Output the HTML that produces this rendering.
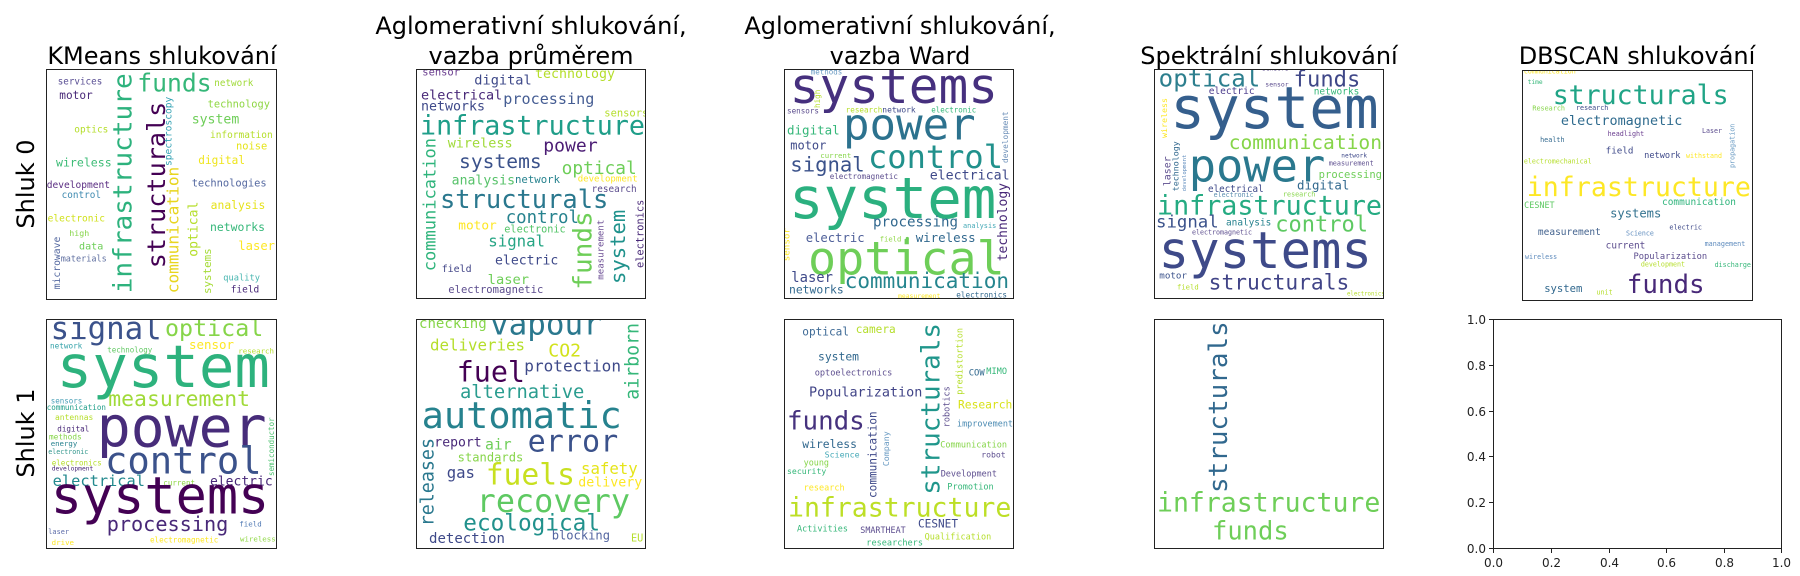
<!DOCTYPE html>
<html><head><meta charset="utf-8"><style>
html,body{margin:0;padding:0;background:#fff;width:1800px;height:576px;overflow:hidden}
svg{display:block}
.w text{font-family:"DejaVu Sans Mono","Liberation Mono",monospace}
.t{font-family:"DejaVu Sans","Liberation Sans",sans-serif;font-size:24px;fill:#000}
.k{font-family:"DejaVu Sans","Liberation Sans",sans-serif;font-size:12px;fill:#222}
</style></head><body>
<svg width="1800" height="576" viewBox="0 0 1800 576" xmlns="http://www.w3.org/2000/svg">
<rect width="1800" height="576" fill="#fff"/>
<!-- titles -->
<text class="t" x="162" y="64" text-anchor="middle">KMeans shlukování</text>
<text class="t" x="531" y="34" text-anchor="middle">Aglomerativní shlukování,</text>
<text class="t" x="531" y="64" text-anchor="middle">vazba průměrem</text>
<text class="t" x="900" y="34" text-anchor="middle">Aglomerativní shlukování,</text>
<text class="t" x="900" y="64" text-anchor="middle">vazba Ward</text>
<text class="t" x="1269" y="64" text-anchor="middle">Spektrální shlukování</text>
<text class="t" x="1637" y="64" text-anchor="middle">DBSCAN shlukování</text>
<text class="t" transform="translate(34,184) rotate(-90)" text-anchor="middle">Shluk 0</text>
<text class="t" transform="translate(34,433) rotate(-90)" text-anchor="middle">Shluk 1</text>

<!-- A0 KMeans row0 -->
<svg x="46" y="69" width="232" height="231" overflow="hidden"><g class="w" transform="translate(-16,-9)" lengthAdjust="spacingAndGlyphs">
<text x="27.7" y="24.3" font-size="9.3" fill="#5a4f94" textLength="44.6" lengthAdjust="spacingAndGlyphs">services</text>
<text x="29.3" y="39" font-size="11.1" fill="#482878" textLength="33.4" lengthAdjust="spacingAndGlyphs">motor</text>
<text x="107.3" y="31.7" font-size="24.7" fill="#35b779" textLength="74.4" lengthAdjust="spacingAndGlyphs">funds</text>
<text x="184.3" y="26" font-size="9.3" fill="#a0da39" textLength="39" lengthAdjust="spacingAndGlyphs">network</text>
<text transform="translate(101.7,233.3) rotate(-90)" font-size="26.1" fill="#2db27d" textLength="220" lengthAdjust="spacingAndGlyphs">infrastructure</text>
<text transform="translate(135,208.3) rotate(-90)" font-size="25.2" fill="#440154" textLength="166.6" lengthAdjust="spacingAndGlyphs">structurals</text>
<text transform="translate(141.7,106) rotate(-90)" font-size="9.6" fill="#31a1b3" textLength="69.3" lengthAdjust="spacingAndGlyphs">spectroscopy</text>
<text transform="translate(148.3,233.3) rotate(-90)" font-size="16.2" fill="#e8d51e" textLength="126.6" lengthAdjust="spacingAndGlyphs">communication</text>
<text x="161.7" y="63.3" font-size="13.2" fill="#6ece58" textLength="47.6" lengthAdjust="spacingAndGlyphs">system</text>
<text x="177.7" y="47.7" font-size="10.3" fill="#8fd744" textLength="62.3" lengthAdjust="spacingAndGlyphs">technology</text>
<text x="44.3" y="72.7" font-size="9.4" fill="#b5de2b" textLength="34" lengthAdjust="spacingAndGlyphs">optics</text>
<text x="180" y="78" font-size="9.5" fill="#b5de2b" textLength="62.7" lengthAdjust="spacingAndGlyphs">information</text>
<text x="206" y="89.3" font-size="10.4" fill="#e5e419" textLength="31.3" lengthAdjust="spacingAndGlyphs">noise</text>
<text x="26" y="106.7" font-size="11.6" fill="#3bbb75" textLength="55.7" lengthAdjust="spacingAndGlyphs">wireless</text>
<text x="168.3" y="104" font-size="11.1" fill="#efe51c" textLength="46.7" lengthAdjust="spacingAndGlyphs">digital</text>
<text x="16.7" y="128" font-size="9.6" fill="#5a2d82" textLength="63.3" lengthAdjust="spacingAndGlyphs">development</text>
<text x="31.7" y="138" font-size="9.3" fill="#3e8ab0" textLength="39.3" lengthAdjust="spacingAndGlyphs">control</text>
<text x="161.7" y="126.7" font-size="10.4" fill="#5468a0" textLength="75" lengthAdjust="spacingAndGlyphs">technologies</text>
<text transform="translate(167.7,196.7) rotate(-90)" font-size="13.1" fill="#b5de2b" textLength="55" lengthAdjust="spacingAndGlyphs">optical</text>
<text x="180.7" y="149" font-size="11.3" fill="#e6e21a" textLength="54.6" lengthAdjust="spacingAndGlyphs">analysis</text>
<text x="17.7" y="161.7" font-size="9.5" fill="#d0e11c" textLength="57.3" lengthAdjust="spacingAndGlyphs">electronic</text>
<text x="180" y="171" font-size="11.4" fill="#35b779" textLength="55" lengthAdjust="spacingAndGlyphs">networks</text>
<text x="39.3" y="176" font-size="8.3" fill="#86d549" textLength="20" lengthAdjust="spacingAndGlyphs">high</text>
<text x="49" y="189.3" font-size="10.1" fill="#6ece58" textLength="24.3" lengthAdjust="spacingAndGlyphs">data</text>
<text x="208.3" y="190" font-size="12.2" fill="#fde725" textLength="36.7" lengthAdjust="spacingAndGlyphs">laser</text>
<text transform="translate(30,229.3) rotate(-90)" font-size="9.7" fill="#5468a0" textLength="52.6" lengthAdjust="spacingAndGlyphs">microwave</text>
<text x="30.7" y="201.7" font-size="8.5" fill="#5f6fa0" textLength="46" lengthAdjust="spacingAndGlyphs">materials</text>
<text transform="translate(181,234) rotate(-90)" font-size="10.8" fill="#a5db36" textLength="45.7" lengthAdjust="spacingAndGlyphs">systems</text>
<text x="193.3" y="220.7" font-size="8.7" fill="#48b6b0" textLength="36.7" lengthAdjust="spacingAndGlyphs">quality</text>
<text x="200.7" y="232.7" font-size="9.5" fill="#482878" textLength="28.6" lengthAdjust="spacingAndGlyphs">field</text>
</g></svg>
<rect x="46.5" y="69.5" width="230" height="230" fill="none" stroke="#222" stroke-width="1"/>

<!-- A1 KMeans row1 -->
<svg x="46" y="319" width="232" height="230" overflow="hidden"><g class="w" transform="translate(-16,-19)">
<text x="20.7" y="39" font-size="30.7" fill="#3b528b" textLength="111" lengthAdjust="spacingAndGlyphs">signal</text>
<text x="135" y="36" font-size="23.3" fill="#86d549" textLength="98.3" lengthAdjust="spacingAndGlyphs">optical</text>
<text x="20" y="48.3" font-size="7.7" fill="#31a1a8" textLength="32.3" lengthAdjust="spacingAndGlyphs">network</text>
<text x="77.3" y="52.7" font-size="7.5" fill="#63c965" textLength="45" lengthAdjust="spacingAndGlyphs">technology</text>
<text x="159" y="49" font-size="12.5" fill="#fde725" textLength="45" lengthAdjust="spacingAndGlyphs">sensor</text>
<text x="208.3" y="53.3" font-size="7.4" fill="#b5de2b" textLength="35.7" lengthAdjust="spacingAndGlyphs">research</text>
<text x="26.7" y="87" font-size="59" fill="#2db27d" textLength="213.3" lengthAdjust="spacingAndGlyphs">system</text>
<text x="78.3" y="106" font-size="21.4" fill="#a0da39" textLength="141.7" lengthAdjust="spacingAndGlyphs">measurement</text>
<text x="20.7" y="103.3" font-size="7.5" fill="#4aa0b7" textLength="31.6" lengthAdjust="spacingAndGlyphs">sensors</text>
<text x="16.7" y="110" font-size="7.6" fill="#1f9e89" textLength="59.3" lengthAdjust="spacingAndGlyphs">communication</text>
<text x="25" y="120" font-size="8" fill="#b5de2b" textLength="38.3" lengthAdjust="spacingAndGlyphs">antennas</text>
<text x="66.7" y="146.7" font-size="56.5" fill="#472c7a" textLength="170" lengthAdjust="spacingAndGlyphs">power</text>
<text x="27.3" y="131.7" font-size="7.6" fill="#482878" textLength="32" lengthAdjust="spacingAndGlyphs">digital</text>
<text x="19" y="139.3" font-size="7.8" fill="#86d549" textLength="32.7" lengthAdjust="spacingAndGlyphs">methods</text>
<text x="20.7" y="146" font-size="7.4" fill="#26828e" textLength="26.6" lengthAdjust="spacingAndGlyphs">energy</text>
<text x="18.3" y="154" font-size="6.6" fill="#31968c" textLength="40" lengthAdjust="spacingAndGlyphs">electronic</text>
<text x="75" y="173.3" font-size="37.2" fill="#3b528b" textLength="156.7" lengthAdjust="spacingAndGlyphs">control</text>
<text transform="translate(244,176) rotate(-90)" font-size="7.5" fill="#4ac16d" textLength="58.7" lengthAdjust="spacingAndGlyphs">semiconductor</text>
<text x="21.7" y="165.7" font-size="7.6" fill="#b5de2b" textLength="50" lengthAdjust="spacingAndGlyphs">electronics</text>
<text x="21.7" y="170.7" font-size="6.3" fill="#482878" textLength="41.6" lengthAdjust="spacingAndGlyphs">development</text>
<text x="22.7" y="186" font-size="15.3" fill="#23898e" textLength="92.3" lengthAdjust="spacingAndGlyphs">electrical</text>
<text x="180" y="185.7" font-size="13" fill="#482878" textLength="62.7" lengthAdjust="spacingAndGlyphs">electric</text>
<text x="133.3" y="185.7" font-size="7.5" fill="#8fd744" textLength="31.7" lengthAdjust="spacingAndGlyphs">current</text>
<text x="20.7" y="213.3" font-size="51.9" fill="#440154" textLength="218.6" lengthAdjust="spacingAndGlyphs">systems</text>
<text x="76.7" y="231" font-size="20.2" fill="#482878" textLength="121.6" lengthAdjust="spacingAndGlyphs">processing</text>
<text x="209.3" y="226.7" font-size="7.4" fill="#4f78b3" textLength="22.4" lengthAdjust="spacingAndGlyphs">field</text>
<text x="18.3" y="234" font-size="6.9" fill="#5c6ba8" textLength="20.7" lengthAdjust="spacingAndGlyphs">laser</text>
<text x="21.7" y="245" font-size="7.4" fill="#fde725" textLength="22.3" lengthAdjust="spacingAndGlyphs">drive</text>
<text x="120" y="242.7" font-size="7.6" fill="#fde725" textLength="68.3" lengthAdjust="spacingAndGlyphs">electromagnetic</text>
<text x="210" y="241.7" font-size="7.4" fill="#8fd744" textLength="35.7" lengthAdjust="spacingAndGlyphs">wireless</text>
</g></svg>
<rect x="46.5" y="319.5" width="230" height="229" fill="none" stroke="#222" stroke-width="1"/>

<!-- B0 -->
<svg x="416" y="69" width="230" height="230" overflow="hidden"><g class="w" transform="translate(-1,-1)">
<text x="7.3" y="7.3" font-size="10.4" fill="#6a3d8f" textLength="37.7" lengthAdjust="spacingAndGlyphs">sensor</text>
<text x="59.3" y="16.7" font-size="13.6" fill="#3e4989" textLength="57.4" lengthAdjust="spacingAndGlyphs">digital</text>
<text x="120" y="10" font-size="13.3" fill="#b5de2b" textLength="80" lengthAdjust="spacingAndGlyphs">technology</text>
<text x="6" y="31.7" font-size="13.5" fill="#482878" textLength="81.3" lengthAdjust="spacingAndGlyphs">electrical</text>
<text x="6" y="42.3" font-size="13.3" fill="#3e4989" textLength="64" lengthAdjust="spacingAndGlyphs">networks</text>
<text x="88.3" y="36" font-size="15.1" fill="#455d93" textLength="91" lengthAdjust="spacingAndGlyphs">processing</text>
<text x="189.3" y="48.3" font-size="10.4" fill="#b5de2b" textLength="44" lengthAdjust="spacingAndGlyphs">sensors</text>
<text x="5" y="66.7" font-size="26.7" fill="#1f9e89" textLength="225" lengthAdjust="spacingAndGlyphs">infrastructure</text>
<text x="32.7" y="79.3" font-size="13.5" fill="#a0da39" textLength="65" lengthAdjust="spacingAndGlyphs">wireless</text>
<text x="128.3" y="83.3" font-size="18.1" fill="#4b1c74" textLength="54.4" lengthAdjust="spacingAndGlyphs">power</text>
<text transform="translate(20.7,203.3) rotate(-90)" font-size="17" fill="#2fb47c" textLength="133.3" lengthAdjust="spacingAndGlyphs">communication</text>
<text x="44" y="100" font-size="19.6" fill="#3b528b" textLength="82.7" lengthAdjust="spacingAndGlyphs">systems</text>
<text x="146.7" y="106" font-size="17.8" fill="#6ece58" textLength="75" lengthAdjust="spacingAndGlyphs">optical</text>
<text x="36.7" y="116.7" font-size="13.1" fill="#57c26a" textLength="63.3" lengthAdjust="spacingAndGlyphs">analysis</text>
<text x="100" y="115" font-size="10.7" fill="#26828e" textLength="45" lengthAdjust="spacingAndGlyphs">network</text>
<text x="162.7" y="113.3" font-size="9.1" fill="#fde725" textLength="60" lengthAdjust="spacingAndGlyphs">development</text>
<text x="176.7" y="124" font-size="9.3" fill="#5c4d8e" textLength="45" lengthAdjust="spacingAndGlyphs">research</text>
<text x="25" y="140" font-size="25.4" fill="#2a788e" textLength="168.3" lengthAdjust="spacingAndGlyphs">structurals</text>
<text transform="translate(176.7,221.7) rotate(-90)" font-size="26" fill="#6ece58" textLength="78.4" lengthAdjust="spacingAndGlyphs">funds</text>
<text transform="translate(188.3,211.7) rotate(-90)" font-size="9.1" fill="#6a4c93" textLength="60" lengthAdjust="spacingAndGlyphs">measurement</text>
<text transform="translate(210,216) rotate(-90)" font-size="20.6" fill="#20928c" textLength="74.3" lengthAdjust="spacingAndGlyphs">system</text>
<text transform="translate(228.3,200) rotate(-90)" font-size="10.3" fill="#482878" textLength="68.3" lengthAdjust="spacingAndGlyphs">electronics</text>
<text x="90.7" y="155" font-size="17.4" fill="#26828e" textLength="73.3" lengthAdjust="spacingAndGlyphs">control</text>
<text x="43.3" y="161.7" font-size="12.8" fill="#fde725" textLength="38.4" lengthAdjust="spacingAndGlyphs">motor</text>
<text x="89.3" y="164.3" font-size="10.2" fill="#53c568" textLength="61.4" lengthAdjust="spacingAndGlyphs">electronic</text>
<text x="73.3" y="178.3" font-size="15.7" fill="#26a584" textLength="56.7" lengthAdjust="spacingAndGlyphs">signal</text>
<text x="80" y="196.7" font-size="13.1" fill="#3e4989" textLength="63.3" lengthAdjust="spacingAndGlyphs">electric</text>
<text x="26.7" y="204" font-size="10" fill="#414487" textLength="30" lengthAdjust="spacingAndGlyphs">field</text>
<text x="72.7" y="216" font-size="13.7" fill="#6ece58" textLength="41.3" lengthAdjust="spacingAndGlyphs">laser</text>
<text x="33.3" y="225" font-size="10.5" fill="#5c4d8e" textLength="95" lengthAdjust="spacingAndGlyphs">electromagnetic</text>
</g></svg>
<rect x="416.5" y="69.5" width="229" height="229" fill="none" stroke="#222" stroke-width="1"/>

<!-- C0 -->
<svg x="784" y="69" width="230" height="230" overflow="hidden"><g class="w" transform="translate(-1,-1)">
<text x="27.7" y="6.7" font-size="7.5" fill="#6a9bc3" textLength="31.6" lengthAdjust="spacingAndGlyphs">methods</text>
<text x="6.7" y="35" font-size="49.4" fill="#46307e" textLength="208.3" lengthAdjust="spacingAndGlyphs">systems</text>
<text transform="translate(37,40) rotate(-90)" font-size="7.6" fill="#b5de2b" textLength="18.3" lengthAdjust="spacingAndGlyphs">high</text>
<text x="4" y="45.7" font-size="7.6" fill="#5c4d8e" textLength="32" lengthAdjust="spacingAndGlyphs">sensors</text>
<text x="62.7" y="44.3" font-size="7.6" fill="#b5de2b" textLength="36.6" lengthAdjust="spacingAndGlyphs">research</text>
<text x="99.3" y="44.3" font-size="7.9" fill="#3e4989" textLength="33.4" lengthAdjust="spacingAndGlyphs">network</text>
<text x="148.3" y="44.3" font-size="7.5" fill="#35b779" textLength="45" lengthAdjust="spacingAndGlyphs">electronic</text>
<text x="60" y="71.7" font-size="44" fill="#2c728e" textLength="132.7" lengthAdjust="spacingAndGlyphs">power</text>
<text x="4" y="66.7" font-size="12.5" fill="#35b779" textLength="52.7" lengthAdjust="spacingAndGlyphs">digital</text>
<text transform="translate(225,95) rotate(-90)" font-size="7.8" fill="#6c8fb8" textLength="51.7" lengthAdjust="spacingAndGlyphs">development</text>
<text x="7.3" y="81.7" font-size="12" fill="#3e4989" textLength="36" lengthAdjust="spacingAndGlyphs">motor</text>
<text x="37.3" y="90" font-size="7.4" fill="#86d549" textLength="31" lengthAdjust="spacingAndGlyphs">current</text>
<text x="85" y="100" font-size="32" fill="#21918c" textLength="135" lengthAdjust="spacingAndGlyphs">control</text>
<text x="7.3" y="103.3" font-size="20.6" fill="#3b528b" textLength="74.4" lengthAdjust="spacingAndGlyphs">signal</text>
<text x="46.7" y="111" font-size="7.6" fill="#5c4d8e" textLength="68.3" lengthAdjust="spacingAndGlyphs">electromagnetic</text>
<text x="146.7" y="111.7" font-size="13.3" fill="#3e4989" textLength="80" lengthAdjust="spacingAndGlyphs">electrical</text>
<text x="6" y="150" font-size="57.4" fill="#2bb07f" textLength="207.3" lengthAdjust="spacingAndGlyphs">system</text>
<text transform="translate(224,193.3) rotate(-90)" font-size="13" fill="#482878" textLength="78.3" lengthAdjust="spacingAndGlyphs">technology</text>
<text x="90" y="158.3" font-size="14.1" fill="#31688e" textLength="85" lengthAdjust="spacingAndGlyphs">processing</text>
<text x="180" y="160" font-size="6.9" fill="#45a9b7" textLength="33.3" lengthAdjust="spacingAndGlyphs">analysis</text>
<text x="22.7" y="174" font-size="12.3" fill="#4e5f99" textLength="59" lengthAdjust="spacingAndGlyphs">electric</text>
<text x="96.7" y="173.3" font-size="7.2" fill="#8fd744" textLength="21.6" lengthAdjust="spacingAndGlyphs">field</text>
<circle cx="124.3" cy="170.5" r="1.6" fill="#6ece58"/>
<text x="132.7" y="174" font-size="12.5" fill="#31688e" textLength="60" lengthAdjust="spacingAndGlyphs">wireless</text>
<text transform="translate(6.7,193.3) rotate(-90)" font-size="9.2" fill="#fde725" textLength="33.3" lengthAdjust="spacingAndGlyphs">sensor</text>
<text x="25" y="206.7" font-size="46.7" fill="#6ece58" textLength="196.7" lengthAdjust="spacingAndGlyphs">optical</text>
<text x="8.3" y="214" font-size="13.8" fill="#3e4989" textLength="41.7" lengthAdjust="spacingAndGlyphs">laser</text>
<text x="61.7" y="220" font-size="21" fill="#25858e" textLength="164.3" lengthAdjust="spacingAndGlyphs">communication</text>
<text x="6" y="225.7" font-size="11.4" fill="#31688e" textLength="54.7" lengthAdjust="spacingAndGlyphs">networks</text>
<text x="115" y="230" font-size="6.4" fill="#fde725" textLength="42.3" lengthAdjust="spacingAndGlyphs">measurement</text>
<text x="173.3" y="229.3" font-size="7.7" fill="#31688e" textLength="50.7" lengthAdjust="spacingAndGlyphs">electronics</text>
</g></svg>
<rect x="784.5" y="69.5" width="229" height="229" fill="none" stroke="#222" stroke-width="1"/>

<!-- D0 -->
<svg x="1154" y="69" width="230" height="230" overflow="hidden"><g class="w" transform="translate(-2,-1)">
<text x="110" y="2.7" font-size="6.3" fill="#5c4d8e" textLength="26.7" lengthAdjust="spacingAndGlyphs">sensors</text>
<text x="6.7" y="18.3" font-size="24.1" fill="#2d7f8e" textLength="101.6" lengthAdjust="spacingAndGlyphs">optical</text>
<text x="141.7" y="18.3" font-size="22.1" fill="#3f4788" textLength="66.6" lengthAdjust="spacingAndGlyphs">funds</text>
<text x="113.3" y="18.3" font-size="6.5" fill="#5c4d8e" textLength="23.4" lengthAdjust="spacingAndGlyphs">sensor</text>
<text x="56.7" y="26" font-size="9.6" fill="#4b3c8c" textLength="46" lengthAdjust="spacingAndGlyphs">electric</text>
<text x="161.7" y="26.7" font-size="9.5" fill="#35b779" textLength="45.6" lengthAdjust="spacingAndGlyphs">networks</text>
<text transform="translate(15,70) rotate(-90)" font-size="8.3" fill="#fde725" textLength="40" lengthAdjust="spacingAndGlyphs">wireless</text>
<text x="18.3" y="60" font-size="57.7" fill="#355f8d" textLength="208.4" lengthAdjust="spacingAndGlyphs">system</text>
<text x="76.7" y="81" font-size="19.6" fill="#86d549" textLength="153.3" lengthAdjust="spacingAndGlyphs">communication</text>
<text transform="translate(26.5,123.3) rotate(-90)" font-size="8.3" fill="#31688e" textLength="50" lengthAdjust="spacingAndGlyphs">technology</text>
<text transform="translate(18.3,118.3) rotate(-90)" font-size="10" fill="#5c4d8e" textLength="30" lengthAdjust="spacingAndGlyphs">laser</text>
<text transform="translate(34,123.3) rotate(-90)" font-size="5.5" fill="#5e8bbd" textLength="36.6" lengthAdjust="spacingAndGlyphs">development</text>
<text x="36.7" y="113.3" font-size="45.4" fill="#2a788e" textLength="136.6" lengthAdjust="spacingAndGlyphs">power</text>
<text x="189.3" y="89.3" font-size="6.1" fill="#3e4989" textLength="25.7" lengthAdjust="spacingAndGlyphs">network</text>
<text x="176.7" y="97.7" font-size="6.8" fill="#5c4d8e" textLength="45" lengthAdjust="spacingAndGlyphs">measurement</text>
<text x="166.7" y="110" font-size="10.5" fill="#6ece58" textLength="63.3" lengthAdjust="spacingAndGlyphs">processing</text>
<text x="56" y="124" font-size="9.3" fill="#3e4989" textLength="55.7" lengthAdjust="spacingAndGlyphs">electrical</text>
<text x="145" y="121.7" font-size="12.4" fill="#31688e" textLength="52.3" lengthAdjust="spacingAndGlyphs">digital</text>
<text x="61.7" y="129" font-size="6.6" fill="#5c8fb0" textLength="40" lengthAdjust="spacingAndGlyphs">electronic</text>
<text x="131" y="128.3" font-size="6.7" fill="#86d549" textLength="32.3" lengthAdjust="spacingAndGlyphs">research</text>
<text x="5" y="146.7" font-size="26.7" fill="#25ab82" textLength="225" lengthAdjust="spacingAndGlyphs">infrastructure</text>
<text x="4" y="159.3" font-size="17.3" fill="#3b528b" textLength="62.7" lengthAdjust="spacingAndGlyphs">signal</text>
<text x="74" y="157.7" font-size="9.4" fill="#26828e" textLength="45.3" lengthAdjust="spacingAndGlyphs">analysis</text>
<text x="123.3" y="163.3" font-size="22" fill="#5ec962" textLength="92.7" lengthAdjust="spacingAndGlyphs">control</text>
<text x="40" y="166.7" font-size="6.6" fill="#5c4d8e" textLength="60" lengthAdjust="spacingAndGlyphs">electromagnetic</text>
<text x="6.7" y="200" font-size="50.6" fill="#3e4a89" textLength="213.3" lengthAdjust="spacingAndGlyphs">systems</text>
<text x="7.3" y="210.7" font-size="9.2" fill="#3b528b" textLength="27.7" lengthAdjust="spacingAndGlyphs">motor</text>
<text x="56.7" y="221.7" font-size="21.2" fill="#414487" textLength="140.6" lengthAdjust="spacingAndGlyphs">structurals</text>
<text x="25" y="221.7" font-size="7.2" fill="#b5de2b" textLength="21.7" lengthAdjust="spacingAndGlyphs">field</text>
<text x="195" y="227.7" font-size="5.7" fill="#b5de2b" textLength="37.7" lengthAdjust="spacingAndGlyphs">electronics</text>
</g></svg>
<rect x="1154.5" y="69.5" width="229" height="229" fill="none" stroke="#222" stroke-width="1"/>

<!-- E0 DBSCAN -->
<svg x="1522" y="70" width="231" height="231" overflow="hidden"><g class="w">
<text x="1.9" y="3.7" font-size="6.6" fill="#fde725" textLength="51.8" lengthAdjust="spacingAndGlyphs">communication</text>
<text x="5.6" y="14" font-size="6.3" fill="#35b779" textLength="15.1" lengthAdjust="spacingAndGlyphs">time</text>
<text x="30.7" y="34" font-size="26.6" fill="#20a486" textLength="176" lengthAdjust="spacingAndGlyphs">structurals</text>
<text x="10.4" y="40.7" font-size="6.8" fill="#86d549" textLength="32.6" lengthAdjust="spacingAndGlyphs">Research</text>
<text x="54" y="40" font-size="6.7" fill="#3e4989" textLength="32.3" lengthAdjust="spacingAndGlyphs">research</text>
<text x="38.9" y="54.8" font-size="13.5" fill="#2f6b8e" textLength="121.5" lengthAdjust="spacingAndGlyphs">electromagnetic</text>
<text x="85.6" y="66" font-size="6.8" fill="#6a3d8f" textLength="36.6" lengthAdjust="spacingAndGlyphs">headlight</text>
<text x="180" y="63" font-size="6.6" fill="#5c4d8e" textLength="20" lengthAdjust="spacingAndGlyphs">Laser</text>
<text transform="translate(212.5,98) rotate(-90)" font-size="6.7" fill="#6a9bc3" textLength="44.3" lengthAdjust="spacingAndGlyphs">propagation</text>
<text x="18.1" y="72.2" font-size="6.8" fill="#31688e" textLength="24.5" lengthAdjust="spacingAndGlyphs">health</text>
<text x="83.7" y="83.3" font-size="9.2" fill="#3e4989" textLength="27.8" lengthAdjust="spacingAndGlyphs">field</text>
<text x="122.2" y="88" font-size="8.6" fill="#3e4989" textLength="36.3" lengthAdjust="spacingAndGlyphs">network</text>
<text x="164" y="87.8" font-size="6.6" fill="#fde725" textLength="36" lengthAdjust="spacingAndGlyphs">withstand</text>
<text x="1.9" y="93.3" font-size="6.6" fill="#b5de2b" textLength="67.7" lengthAdjust="spacingAndGlyphs">electromechanical</text>
<text x="4.8" y="126" font-size="26.6" fill="#fde725" textLength="224.1" lengthAdjust="spacingAndGlyphs">infrastructure</text>
<text x="2.2" y="137.8" font-size="8.4" fill="#5ec962" textLength="30.4" lengthAdjust="spacingAndGlyphs">CESNET</text>
<text x="140" y="135" font-size="9.5" fill="#2fb47c" textLength="74" lengthAdjust="spacingAndGlyphs">communication</text>
<text x="88.1" y="147.4" font-size="12.1" fill="#33728f" textLength="51.2" lengthAdjust="spacingAndGlyphs">systems</text>
<text x="15.9" y="165.2" font-size="9.5" fill="#45648f" textLength="63" lengthAdjust="spacingAndGlyphs">measurement</text>
<text x="104" y="165.6" font-size="6.6" fill="#5e8bbd" textLength="27.8" lengthAdjust="spacingAndGlyphs">Science</text>
<text x="147.4" y="159.3" font-size="6.8" fill="#3e4989" textLength="32.6" lengthAdjust="spacingAndGlyphs">electric</text>
<text x="83.7" y="178.5" font-size="9.4" fill="#5c4d8e" textLength="39.6" lengthAdjust="spacingAndGlyphs">current</text>
<text x="182.6" y="176" font-size="6.8" fill="#5e8bbd" textLength="40.7" lengthAdjust="spacingAndGlyphs">management</text>
<text x="3" y="188.9" font-size="6.7" fill="#5e8bbd" textLength="32.2" lengthAdjust="spacingAndGlyphs">wireless</text>
<text x="111.5" y="188.9" font-size="8.7" fill="#5c4d8e" textLength="73.7" lengthAdjust="spacingAndGlyphs">Popularization</text>
<text x="118.9" y="196.3" font-size="6.7" fill="#b5de2b" textLength="44.1" lengthAdjust="spacingAndGlyphs">development</text>
<text x="192.6" y="197" font-size="6.7" fill="#35b779" textLength="36.3" lengthAdjust="spacingAndGlyphs">discharge</text>
<text x="104.8" y="223" font-size="25.8" fill="#482878" textLength="77.8" lengthAdjust="spacingAndGlyphs">funds</text>
<text x="22.2" y="222.2" font-size="10.6" fill="#31688e" textLength="38.2" lengthAdjust="spacingAndGlyphs">system</text>
<text x="74.4" y="224.4" font-size="6.8" fill="#b5de2b" textLength="16.3" lengthAdjust="spacingAndGlyphs">unit</text>
</g></svg>
<rect x="1522.5" y="70.5" width="230" height="230" fill="none" stroke="#222" stroke-width="1"/>

<!-- B1 -->
<svg x="416" y="319" width="230" height="230" overflow="hidden"><g class="w" transform="translate(-1,-1)">
<text x="4" y="10" font-size="14" fill="#86d549" textLength="67.7" lengthAdjust="spacingAndGlyphs">checking</text>
<text x="75" y="16.7" font-size="30.9" fill="#2a788e" textLength="111.7" lengthAdjust="spacingAndGlyphs">vapour</text>
<text transform="translate(223.3,81.7) rotate(-90)" font-size="18.2" fill="#35b779" textLength="76.7" lengthAdjust="spacingAndGlyphs">airborn</text>
<text x="15" y="32.3" font-size="15.8" fill="#b5de2b" textLength="95" lengthAdjust="spacingAndGlyphs">deliveries</text>
<text x="133.3" y="38.3" font-size="18.1" fill="#d2e21b" textLength="32.7" lengthAdjust="spacingAndGlyphs">CO2</text>
<text x="41.7" y="63.3" font-size="28.4" fill="#440154" textLength="68.3" lengthAdjust="spacingAndGlyphs">fuel</text>
<text x="109.3" y="53.3" font-size="16" fill="#3e4989" textLength="96.7" lengthAdjust="spacingAndGlyphs">protection</text>
<text x="45" y="80" font-size="18.8" fill="#2a9d8f" textLength="124.3" lengthAdjust="spacingAndGlyphs">alternative</text>
<text x="6.7" y="110" font-size="36.9" fill="#26828e" textLength="200" lengthAdjust="spacingAndGlyphs">automatic</text>
<text x="112.7" y="133.3" font-size="30.1" fill="#3b528b" textLength="90.6" lengthAdjust="spacingAndGlyphs">error</text>
<text transform="translate(18.3,208.3) rotate(-90)" font-size="18.3" fill="#2a788e" textLength="88.3" lengthAdjust="spacingAndGlyphs">releases</text>
<text x="19.3" y="128.3" font-size="13.1" fill="#482878" textLength="47.4" lengthAdjust="spacingAndGlyphs">report</text>
<text x="70" y="131.7" font-size="14.8" fill="#6ece58" textLength="26.7" lengthAdjust="spacingAndGlyphs">air</text>
<text x="42.7" y="143.3" font-size="12.1" fill="#86d549" textLength="65.6" lengthAdjust="spacingAndGlyphs">standards</text>
<text x="31.7" y="160" font-size="15.7" fill="#3e4989" textLength="28.3" lengthAdjust="spacingAndGlyphs">gas</text>
<text x="70.7" y="166.7" font-size="29.7" fill="#c8e020" textLength="89.3" lengthAdjust="spacingAndGlyphs">fuels</text>
<text x="166" y="156" font-size="15.7" fill="#e5e419" textLength="56.7" lengthAdjust="spacingAndGlyphs">safety</text>
<text x="163.3" y="168.3" font-size="13.3" fill="#fde725" textLength="64" lengthAdjust="spacingAndGlyphs">delivery</text>
<text x="61.7" y="194" font-size="31.8" fill="#5ec962" textLength="153.3" lengthAdjust="spacingAndGlyphs">recovery</text>
<text x="48.3" y="212.7" font-size="22.7" fill="#21918c" textLength="136.7" lengthAdjust="spacingAndGlyphs">ecological</text>
<text x="14" y="225" font-size="14" fill="#3e4989" textLength="76" lengthAdjust="spacingAndGlyphs">detection</text>
<text x="136.7" y="221.7" font-size="12.1" fill="#5365a0" textLength="58.3" lengthAdjust="spacingAndGlyphs">blocking</text>
<text x="216" y="223.3" font-size="10.2" fill="#b5de2b" textLength="12.3" lengthAdjust="spacingAndGlyphs">EU</text>
</g></svg>
<rect x="416.5" y="319.5" width="229" height="229" fill="none" stroke="#222" stroke-width="1"/>

<!-- C1 -->
<svg x="784" y="319" width="230" height="230" overflow="hidden"><g class="w" transform="translate(-1,-1)">
<text x="19.3" y="17.3" font-size="11.1" fill="#3e6a96" textLength="46.7" lengthAdjust="spacingAndGlyphs">optical</text>
<text x="72.7" y="15" font-size="11.1" fill="#b5de2b" textLength="40" lengthAdjust="spacingAndGlyphs">camera</text>
<text transform="translate(156.7,176.7) rotate(-90)" font-size="25.9" fill="#1f968b" textLength="171.7" lengthAdjust="spacingAndGlyphs">structurals</text>
<text transform="translate(179.5,76.7) rotate(-90)" font-size="8.5" fill="#b5de2b" textLength="66.7" lengthAdjust="spacingAndGlyphs">predistortion</text>
<text x="35" y="42.7" font-size="11.4" fill="#31688e" textLength="41" lengthAdjust="spacingAndGlyphs">system</text>
<text x="31.7" y="57.3" font-size="8.6" fill="#5c4d8e" textLength="77.6" lengthAdjust="spacingAndGlyphs">optoelectronics</text>
<text x="185.7" y="57.3" font-size="8.9" fill="#31688e" textLength="16" lengthAdjust="spacingAndGlyphs">COW</text>
<text x="203.3" y="56" font-size="8.6" fill="#35b779" textLength="20.7" lengthAdjust="spacingAndGlyphs">MIMO</text>
<text x="26" y="78.3" font-size="13.4" fill="#414487" textLength="113.3" lengthAdjust="spacingAndGlyphs">Popularization</text>
<text transform="translate(166.7,109.3) rotate(-90)" font-size="8.5" fill="#5c4d8e" textLength="41" lengthAdjust="spacingAndGlyphs">robotics</text>
<text x="175" y="90.7" font-size="11.3" fill="#d8e219" textLength="54.3" lengthAdjust="spacingAndGlyphs">Research</text>
<text x="4" y="111.7" font-size="25.8" fill="#46327e" textLength="77.7" lengthAdjust="spacingAndGlyphs">funds</text>
<text transform="translate(93.3,180) rotate(-90)" font-size="11.1" fill="#3e4989" textLength="86.7" lengthAdjust="spacingAndGlyphs">communication</text>
<text transform="translate(106,148.3) rotate(-90)" font-size="8.3" fill="#6a9bc3" textLength="35" lengthAdjust="spacingAndGlyphs">Company</text>
<text x="174" y="108.3" font-size="8.5" fill="#4a8ab2" textLength="56" lengthAdjust="spacingAndGlyphs">improvement</text>
<text x="19.3" y="130" font-size="11.4" fill="#31688e" textLength="54.7" lengthAdjust="spacingAndGlyphs">wireless</text>
<text x="41.7" y="139.3" font-size="8.3" fill="#45a9b7" textLength="35" lengthAdjust="spacingAndGlyphs">Science</text>
<text x="157.3" y="129.3" font-size="8.5" fill="#86d549" textLength="66.7" lengthAdjust="spacingAndGlyphs">Communication</text>
<text x="198.3" y="139.3" font-size="8.1" fill="#5c4d8e" textLength="24.4" lengthAdjust="spacingAndGlyphs">robot</text>
<text x="20.7" y="147.3" font-size="8.4" fill="#86d549" textLength="25.3" lengthAdjust="spacingAndGlyphs">young</text>
<text x="4" y="156" font-size="8.2" fill="#35b779" textLength="39.3" lengthAdjust="spacingAndGlyphs">security</text>
<text x="157.7" y="158.3" font-size="8.5" fill="#5c4d8e" textLength="56.3" lengthAdjust="spacingAndGlyphs">Development</text>
<text x="20.7" y="172.7" font-size="8.5" fill="#fde725" textLength="41" lengthAdjust="spacingAndGlyphs">research</text>
<text x="164.3" y="171.7" font-size="8.6" fill="#35b779" textLength="46.4" lengthAdjust="spacingAndGlyphs">Promotion</text>
<text x="5" y="198.3" font-size="26.5" fill="#bddf26" textLength="223.3" lengthAdjust="spacingAndGlyphs">infrastructure</text>
<text x="135" y="209.3" font-size="11.1" fill="#3e4989" textLength="40" lengthAdjust="spacingAndGlyphs">CESNET</text>
<text x="14" y="213.3" font-size="8.5" fill="#35b779" textLength="51" lengthAdjust="spacingAndGlyphs">Activities</text>
<text x="77.3" y="215" font-size="8.4" fill="#5c4d8e" textLength="45.4" lengthAdjust="spacingAndGlyphs">SMARTHEAT</text>
<text x="141.7" y="221.7" font-size="8.5" fill="#b5de2b" textLength="66.6" lengthAdjust="spacingAndGlyphs">Qualification</text>
<text x="83.3" y="227.3" font-size="8.6" fill="#35b779" textLength="56.7" lengthAdjust="spacingAndGlyphs">researchers</text>
</g></svg>
<rect x="784.5" y="319.5" width="229" height="229" fill="none" stroke="#222" stroke-width="1"/>

<!-- D1 -->
<svg x="1154" y="319" width="230" height="230" overflow="hidden"><g class="w" transform="translate(-2,-1)">
<text transform="translate(75,175) rotate(-90)" font-size="25.9" fill="#31688e" textLength="171.7" lengthAdjust="spacingAndGlyphs">structurals</text>
<text x="5" y="193.3" font-size="26.5" fill="#6ece58" textLength="223.3" lengthAdjust="spacingAndGlyphs">infrastructure</text>
<text x="60" y="221.7" font-size="25.5" fill="#6ece58" textLength="76.7" lengthAdjust="spacingAndGlyphs">funds</text>
</g></svg>
<rect x="1154.5" y="319.5" width="229" height="229" fill="none" stroke="#222" stroke-width="1"/>

<!-- empty axes -->
<rect x="1493.5" y="319.5" width="288" height="229" fill="none" stroke="#222" stroke-width="1"/>
<g stroke="#222" stroke-width="1">
<line x1="1489" y1="548.5" x2="1493" y2="548.5"/>
<line x1="1489" y1="502.5" x2="1493" y2="502.5"/>
<line x1="1489" y1="456.5" x2="1493" y2="456.5"/>
<line x1="1489" y1="411.5" x2="1493" y2="411.5"/>
<line x1="1489" y1="365.5" x2="1493" y2="365.5"/>
<line x1="1489" y1="319.5" x2="1493" y2="319.5"/>
<line x1="1493.5" y1="549" x2="1493.5" y2="553"/>
<line x1="1551.5" y1="549" x2="1551.5" y2="553"/>
<line x1="1609.5" y1="549" x2="1609.5" y2="553"/>
<line x1="1666.5" y1="549" x2="1666.5" y2="553"/>
<line x1="1724.5" y1="549" x2="1724.5" y2="553"/>
<line x1="1781.5" y1="549" x2="1781.5" y2="553"/>
</g>
<g class="k" text-anchor="end">
<text x="1486" y="553">0.0</text>
<text x="1486" y="507">0.2</text>
<text x="1486" y="461">0.4</text>
<text x="1486" y="416">0.6</text>
<text x="1486" y="370">0.8</text>
<text x="1486" y="324">1.0</text>
</g>
<g class="k" text-anchor="middle">
<text x="1493.5" y="567">0.0</text>
<text x="1551.5" y="567">0.2</text>
<text x="1609.5" y="567">0.4</text>
<text x="1666.5" y="567">0.6</text>
<text x="1724.5" y="567">0.8</text>
<text x="1781.5" y="567">1.0</text>
</g>
</svg>
</body></html>
